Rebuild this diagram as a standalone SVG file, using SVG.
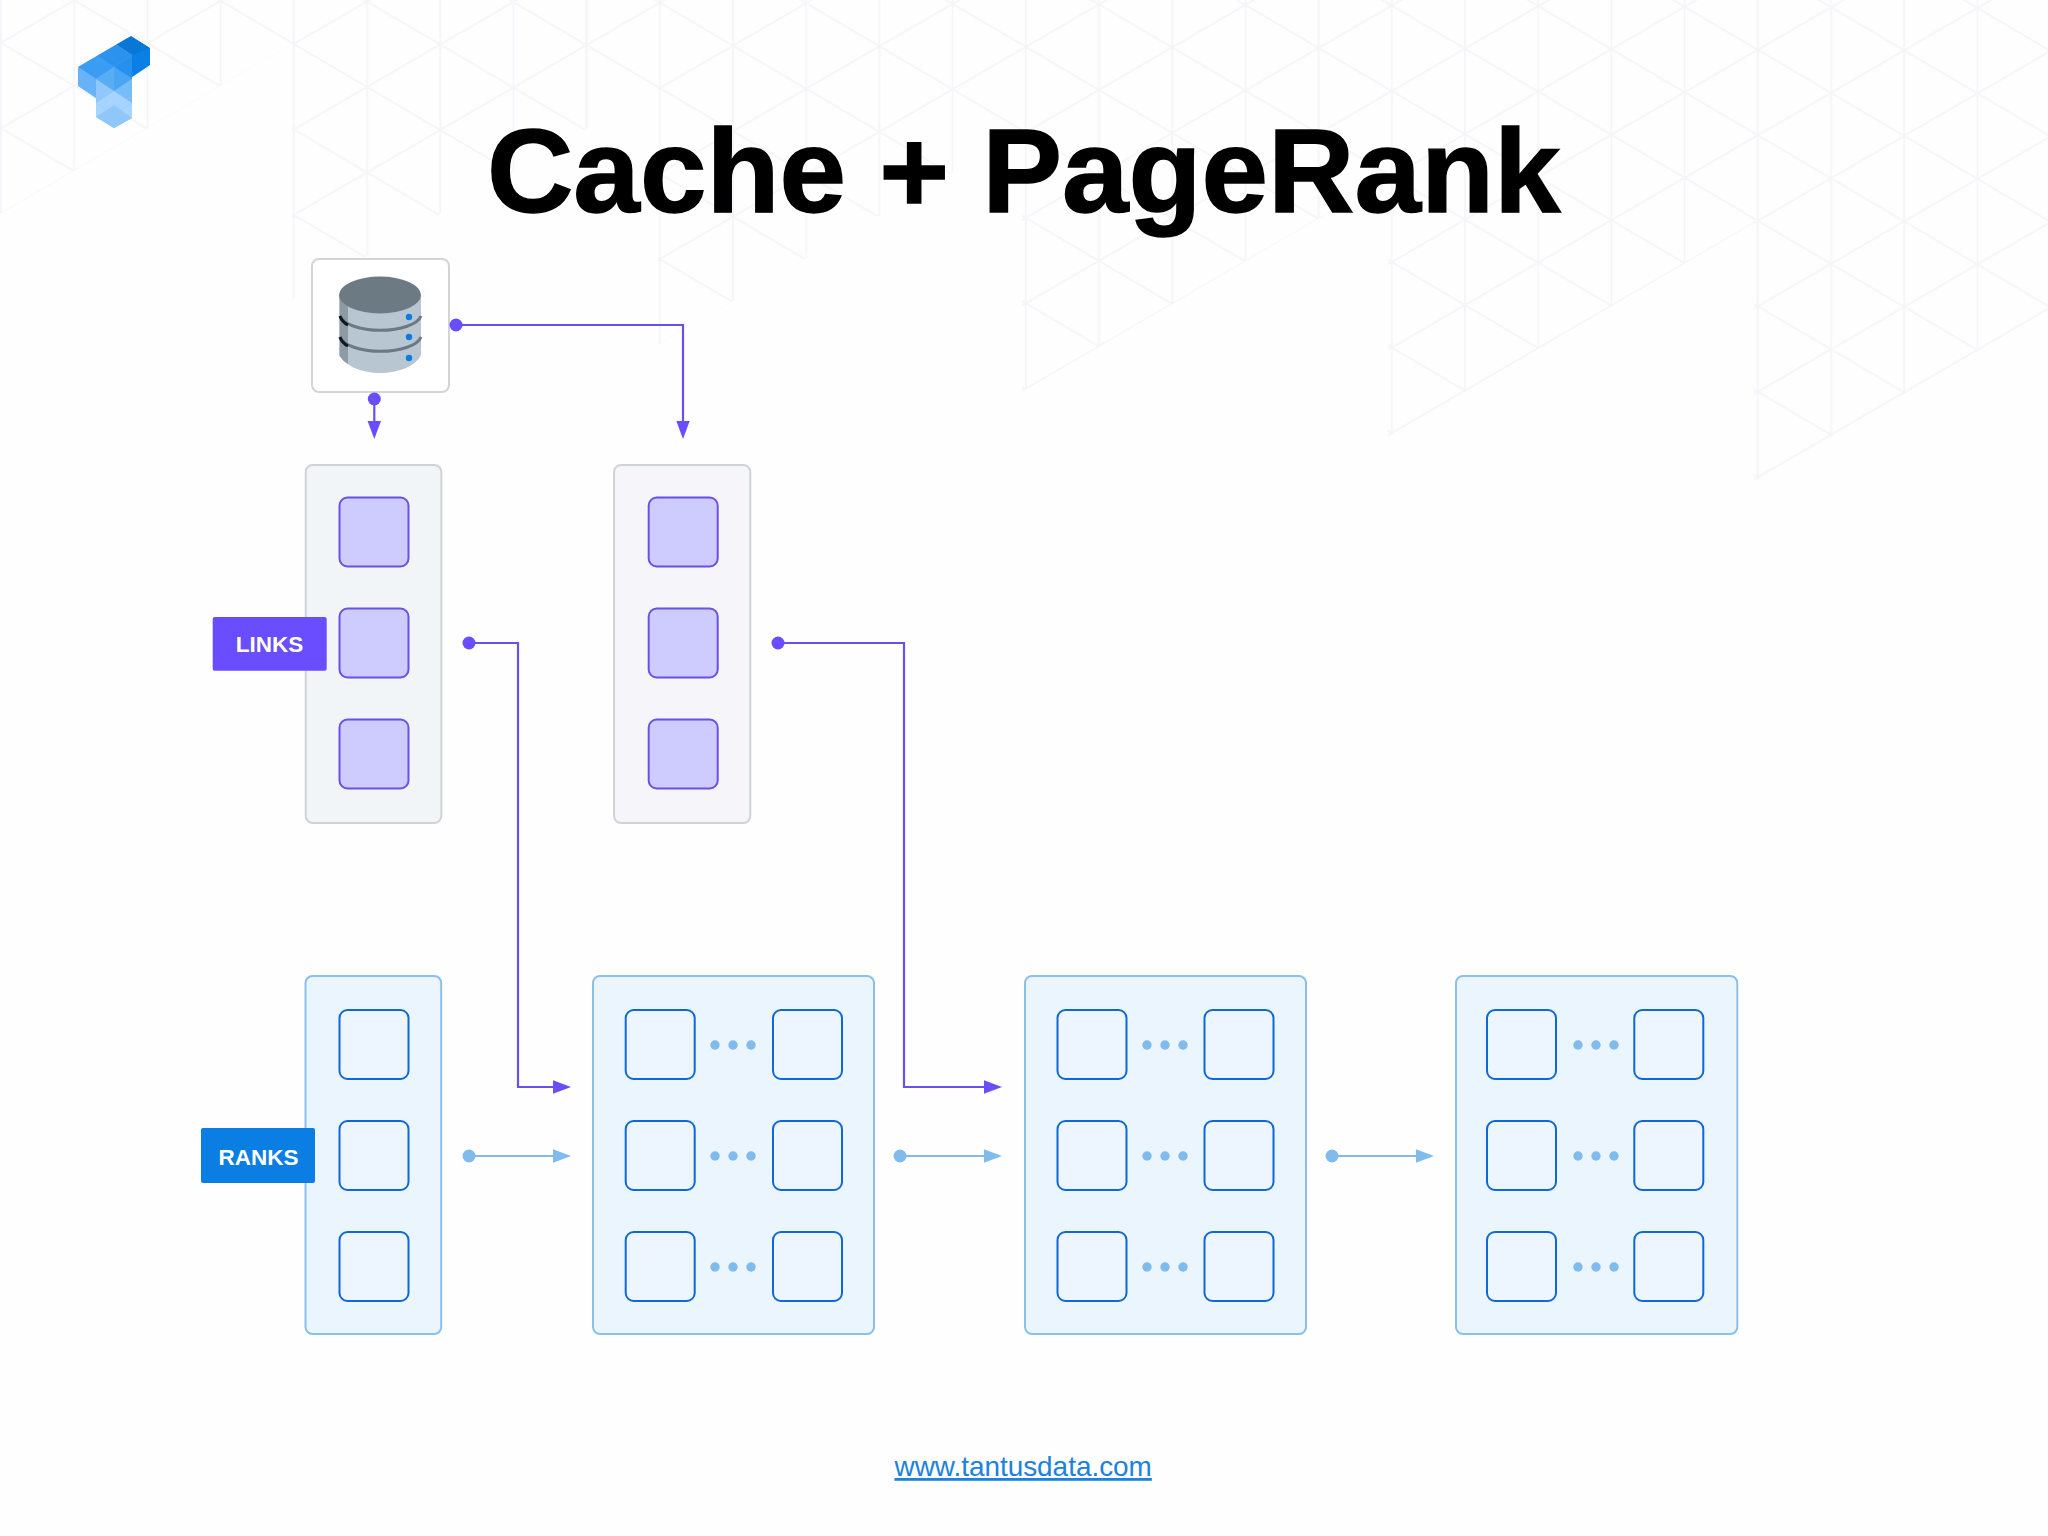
<svg xmlns="http://www.w3.org/2000/svg" width="2048" height="1536" viewBox="0 0 2048 1536">
<style>
text{font-family:"Liberation Sans",Arial,sans-serif}
.title{font-size:119.6px;font-weight:700;fill:#000;stroke:#000;stroke-width:1.4}
.tag{font-size:22.5px;font-weight:700;fill:#fff;text-anchor:middle}
.url{font-size:27.9px;fill:#1b82de;text-decoration:underline}
.lbox{fill:#f2f5f7;stroke:#d0d3d6;stroke-width:2}
.lbox2{fill:#f5f5fa;stroke:#d0d3d6;stroke-width:2}
.lcell{fill:#cdcbff;stroke:#6a4fe8;stroke-width:2}
.rbox{fill:#eaf5fe;stroke:#8bc0ea;stroke-width:2}
.rcell{fill:#edf6fe;stroke:#0f67d8;stroke-width:2}
.dot{fill:#80bbee}
.pl{fill:none;stroke:#6a4fef;stroke-width:2.2}
.bl{fill:none;stroke:#80bbee;stroke-width:2.2}
</style>
<defs>
<pattern id="lattice" patternUnits="userSpaceOnUse" width="146.4" height="85.5" patternTransform="matrix(1 .004 0 1 1 0)">
<path d="M0 0V85.5M73.2 0V85.5M146.4 0V85.5M0 42.75L73.2 0L146.4 42.75L73.2 85.5L0 42.75" fill="none" stroke="#f5f4f8" stroke-width="1.7"/>
</pattern>
<marker id="pa" markerUnits="userSpaceOnUse" markerWidth="18" markerHeight="14" refX="0" refY="7" orient="auto"><path d="M0 .3L18 7L0 13.7Z" fill="#6a4dff"/></marker>
<marker id="ba" markerUnits="userSpaceOnUse" markerWidth="18" markerHeight="14" refX="0" refY="7" orient="auto"><path d="M0 .3L18 7L0 13.7Z" fill="#80bbee"/></marker>
<marker id="pd" markerUnits="userSpaceOnUse" markerWidth="14" markerHeight="14" refX="7" refY="7"><circle cx="7" cy="7" r="6.5" fill="#6a4dff"/></marker>
<marker id="bd" markerUnits="userSpaceOnUse" markerWidth="14" markerHeight="14" refX="7" refY="7"><circle cx="7" cy="7" r="6.5" fill="#80bbee"/></marker>
<clipPath id="logoclip"><path d="M131 36L150 48V65L132 77V118L114 128L96 117V98L78 86V67Z"/></clipPath>
</defs>
<rect width="2048" height="1536" fill="#fefefe"/>
<path id="background-lattice" fill="url(#lattice)" d="M0 0V214L292 44V300L658 87V345L1022 132V392L1388 178V437L1754 223V482L2048 310V0Z"/>
<g id="logo" clip-path="url(#logoclip)">
<rect x="76" y="34" width="76" height="96" fill="#6fb7f8"/>
<path d="M131 36L150 48V65L132 80V55Z" fill="#0a80e6"/>
<path d="M131 36L150 48L132 55L114 43Z" fill="#0877d6"/>
<path d="M78 67L96 55L114 67L96 79Z" fill="#3a9cf2"/>
<path d="M96 55L114 43L132 55L114 67Z" fill="#2b92ee"/>
<path d="M114 67L132 55V79Z" fill="#2491ee"/>
<path d="M114 67L132 79L114 91Z" fill="#4aa6f4"/>
<path d="M96 79L114 67V91Z" fill="#58adf5"/>
<path d="M78 67L96 79V98L78 86Z" fill="#68b3f7"/>
<path d="M96 79L114 91L96 103Z" fill="#90c8fb"/>
<path d="M114 91L132 79V103Z" fill="#78bdf9"/>
<path d="M96 103L114 91L132 103L114 115Z" fill="#a6d4fe"/>
<path d="M114 115L132 103V120L96 120V103Z" fill="#a6d5ff"/>
<path d="M96 117L114 105L132 118L114 130Z" fill="#8ec7fa"/>
</g>
<text class="title" x="487" y="212">Cache + PageRank</text>
<g id="database">
<rect x="312" y="259" width="137" height="133" rx="7" fill="#fff" stroke="#d2d4d7" stroke-width="2"/>
<path d="M339.5 295V355C345 366 362 373 380 373C398 373 416 366 421 355V295Z" fill="#b7c6d1"/>
<path d="M339.5 295V356Q343 361 348 364V300Z" fill="#8c9ba5"/>
<path d="M340 316A41 17 0 0 0 421 316M340 337A41 17 0 0 0 421 337" fill="none" stroke="#6a7982" stroke-width="3"/>
<path d="M340 316Q342 322 348 325M340 337Q342 343 348 346" fill="none" stroke="#10181d" stroke-width="3"/>
<ellipse cx="380" cy="295" rx="41" ry="18.5" fill="#6c7a83"/>
<circle cx="409" cy="317" r="3.2" fill="#0b7de0"/>
<circle cx="409" cy="337" r="3.2" fill="#0b7de0"/>
<circle cx="409" cy="358" r="3.2" fill="#0b7de0"/>
</g>
<g id="links-1">
<rect class="lbox" x="305.7" y="465" width="135.6" height="358" rx="7"/>
<rect class="lcell" x="339.5" y="497.5" width="69" height="69" rx="8"/>
<rect class="lcell" x="339.5" y="608.5" width="69" height="69" rx="8"/>
<rect class="lcell" x="339.5" y="719.5" width="69" height="69" rx="8"/>
</g>
<g id="links-2">
<rect class="lbox2" x="614" y="465" width="136.3" height="358" rx="7"/>
<rect class="lcell" x="648.7" y="497.5" width="69" height="69" rx="8"/>
<rect class="lcell" x="648.7" y="608.5" width="69" height="69" rx="8"/>
<rect class="lcell" x="648.7" y="719.5" width="69" height="69" rx="8"/>
</g>
<g id="links-label">
<rect x="212.7" y="617" width="114" height="53.7" rx="2" fill="#6a4dff"/>
<text class="tag" x="269.5" y="652">LINKS</text>
</g>
<g id="ranks-0">
<rect class="rbox" x="305.5" y="976" width="135.7" height="358" rx="7"/>
<rect class="rcell" x="339.5" y="1010" width="69" height="69" rx="8"/>
<rect class="rcell" x="339.5" y="1121" width="69" height="69" rx="8"/>
<rect class="rcell" x="339.5" y="1232" width="69" height="69" rx="8"/>
</g>
<g id="ranks-label">
<rect x="201" y="1128" width="114" height="55" rx="2" fill="#0a7ee3"/>
<text class="tag" x="258.5" y="1165">RANKS</text>
</g>
<g id="ranks-1">
<rect class="rbox" x="593" y="976" width="281" height="358" rx="7"/>
<rect class="rcell" x="625.7" y="1010" width="69" height="69" rx="8"/>
<rect class="rcell" x="773" y="1010" width="69" height="69" rx="8"/>
<rect class="rcell" x="625.7" y="1121" width="69" height="69" rx="8"/>
<rect class="rcell" x="773" y="1121" width="69" height="69" rx="8"/>
<rect class="rcell" x="625.7" y="1232" width="69" height="69" rx="8"/>
<rect class="rcell" x="773" y="1232" width="69" height="69" rx="8"/>
<g class="dot">
<circle cx="715" cy="1045" r="4.7"/><circle cx="733" cy="1045" r="4.7"/><circle cx="751" cy="1045" r="4.7"/>
<circle cx="715" cy="1156" r="4.7"/><circle cx="733" cy="1156" r="4.7"/><circle cx="751" cy="1156" r="4.7"/>
<circle cx="715" cy="1267" r="4.7"/><circle cx="733" cy="1267" r="4.7"/><circle cx="751" cy="1267" r="4.7"/>
</g>
</g>
<g id="ranks-2">
<rect class="rbox" x="1025" y="976" width="281" height="358" rx="7"/>
<rect class="rcell" x="1057.5" y="1010" width="69" height="69" rx="8"/>
<rect class="rcell" x="1204.5" y="1010" width="69" height="69" rx="8"/>
<rect class="rcell" x="1057.5" y="1121" width="69" height="69" rx="8"/>
<rect class="rcell" x="1204.5" y="1121" width="69" height="69" rx="8"/>
<rect class="rcell" x="1057.5" y="1232" width="69" height="69" rx="8"/>
<rect class="rcell" x="1204.5" y="1232" width="69" height="69" rx="8"/>
<g class="dot">
<circle cx="1147" cy="1045" r="4.7"/><circle cx="1165" cy="1045" r="4.7"/><circle cx="1183" cy="1045" r="4.7"/>
<circle cx="1147" cy="1156" r="4.7"/><circle cx="1165" cy="1156" r="4.7"/><circle cx="1183" cy="1156" r="4.7"/>
<circle cx="1147" cy="1267" r="4.7"/><circle cx="1165" cy="1267" r="4.7"/><circle cx="1183" cy="1267" r="4.7"/>
</g>
</g>
<g id="ranks-3">
<rect class="rbox" x="1456" y="976" width="281.3" height="358" rx="7"/>
<rect class="rcell" x="1487" y="1010" width="69" height="69" rx="8"/>
<rect class="rcell" x="1634.3" y="1010" width="69" height="69" rx="8"/>
<rect class="rcell" x="1487" y="1121" width="69" height="69" rx="8"/>
<rect class="rcell" x="1634.3" y="1121" width="69" height="69" rx="8"/>
<rect class="rcell" x="1487" y="1232" width="69" height="69" rx="8"/>
<rect class="rcell" x="1634.3" y="1232" width="69" height="69" rx="8"/>
<g class="dot">
<circle cx="1578" cy="1045" r="4.7"/><circle cx="1596" cy="1045" r="4.7"/><circle cx="1614" cy="1045" r="4.7"/>
<circle cx="1578" cy="1156" r="4.7"/><circle cx="1596" cy="1156" r="4.7"/><circle cx="1614" cy="1156" r="4.7"/>
<circle cx="1578" cy="1267" r="4.7"/><circle cx="1596" cy="1267" r="4.7"/><circle cx="1614" cy="1267" r="4.7"/>
</g>
</g>
<g id="connectors">
<path class="pl" marker-start="url(#pd)" marker-end="url(#pa)" d="M374.3 399V421"/>
<path class="pl" marker-start="url(#pd)" marker-end="url(#pa)" d="M456 325H683V421"/>
<path class="pl" marker-start="url(#pd)" marker-end="url(#pa)" d="M469 643H518V1087H553"/>
<path class="pl" marker-start="url(#pd)" marker-end="url(#pa)" d="M778 643H904V1087H984"/>
<path class="bl" marker-start="url(#bd)" marker-end="url(#ba)" d="M469 1156H553"/>
<path class="bl" marker-start="url(#bd)" marker-end="url(#ba)" d="M900 1156H984"/>
<path class="bl" marker-start="url(#bd)" marker-end="url(#ba)" d="M1332 1156H1416"/>
</g>
<text class="url" x="894.5" y="1476">www.tantusdata.com</text>
</svg>
